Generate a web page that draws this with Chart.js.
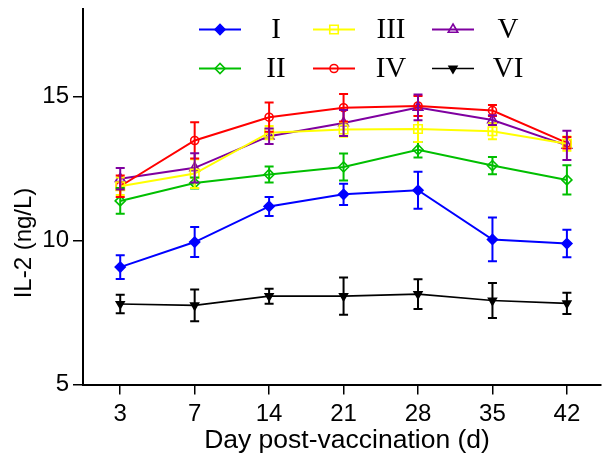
<!DOCTYPE html>
<html><head><meta charset="utf-8">
<script src="https://cdn.jsdelivr.net/npm/chart.js@4/dist/chart.umd.min.js"></script>
<style>html,body{margin:0;padding:0;background:#fff}#wrap{width:608px;height:466px}</style>
</head><body><div id="wrap"><canvas id="c" width="608" height="466"></canvas></div>
<script>
const days = ['3','7','14','21','28','35','42'];
const groupNames = ['I','II','III','IV','V','VI'];
const g1 = [9.08, 9.95, 11.19, 11.61, 11.75, 10.04, 9.90];
const g1Err = [0.41, 0.52, 0.33, 0.37, 0.64, 0.76, 0.48];
const g2 = [11.38, 12.00, 12.30, 12.56, 13.16, 12.61, 12.11];
const g2Err = [0.45, 0.19, 0.28, 0.47, 0.27, 0.30, 0.51];
const g3 = [11.89, 12.33, 13.75, 13.86, 13.88, 13.80, 13.37];
const g3Err = [0.30, 0.50, 0.23, 0.25, 0.45, 0.28, 0.25];
const g4 = [11.89, 13.48, 14.29, 14.62, 14.68, 14.52, 13.40];
const g4Err = [0.37, 0.63, 0.51, 0.48, 0.35, 0.19, 0.20];
const g5 = [12.15, 12.53, 13.63, 14.09, 14.63, 14.19, 13.31];
const g5Err = [0.37, 0.51, 0.27, 0.45, 0.45, 0.17, 0.51];
const g6 = [7.80, 7.75, 8.07, 8.07, 8.14, 7.92, 7.82];
const g6Err = [0.32, 0.55, 0.26, 0.65, 0.52, 0.61, 0.37];
const yTicks = [5, 10, 15];

const series = [g1, g2, g3, g4, g5, g6];
const errs = [g1Err, g2Err, g3Err, g4Err, g5Err, g6Err];
const colors = ['#0000ff', '#00bf00', '#ffff00', '#ff0000', '#7f00a0', '#000000'];
const shapes = ['rectRot', 'rectRot', 'rect', 'circle', 'triangle', 'triangle'];
const fills = [true, false, false, false, false, true];
const radii = [5, 5, 6, 4, 5.5, 4.5];
const rots = [0, 0, 0, 0, 0, 180];

const datasets = series.map((s, i) => ({
  label: groupNames[i],
  data: s.map((v, j) => ({x: j, y: v})),
  errors: errs[i],
  borderColor: colors[i],
  backgroundColor: fills[i] ? colors[i] : '#ffffff',
  pointBackgroundColor: fills[i] ? colors[i] : 'rgba(0,0,0,0)',
  pointBorderColor: colors[i],
  pointStyle: shapes[i],
  pointRadius: radii[i],
  pointRotation: rots[i],
  pointBorderWidth: 1.6,
  borderWidth: i === 5 ? 1.6 : 2,
  tension: 0,
  clip: false
}));

const errorBars = {
  id: 'errorBars',
  afterDatasetsDraw(chart) {
    const ctx = chart.ctx, xs = chart.scales.x, ys = chart.scales.y;
    ctx.save();
    chart.data.datasets.forEach((ds) => {
      ctx.strokeStyle = ds.borderColor;
      ctx.lineWidth = 2;
      ds.data.forEach((p, j) => {
        const e = ds.errors[j];
        const x = xs.getPixelForValue(p.x);
        const yt = ys.getPixelForValue(p.y + e), yb = ys.getPixelForValue(p.y - e);
        ctx.beginPath();
        ctx.moveTo(x, yt); ctx.lineTo(x, yb);
        ctx.moveTo(x - 4.5, yt); ctx.lineTo(x + 4.5, yt);
        ctx.moveTo(x - 4.5, yb); ctx.lineTo(x + 4.5, yb);
        ctx.stroke();
      });
    });
    ctx.restore();
  }
};

const legendAndTitles = {
  id: 'legendAndTitles',
  afterDraw(chart) {
    const ctx = chart.ctx;
    ctx.save();
    const colLine = [199, 313, 432];
    const colText = [276, 391, 508];
    const rowY = [29.5, 68.5];
    chart.data.datasets.forEach((ds, i) => {
      const col = Math.floor(i / 2), row = i % 2;
      const y = rowY[row], x0 = colLine[col];
      ctx.strokeStyle = ds.borderColor;
      ctx.lineWidth = ds.borderWidth;
      ctx.beginPath(); ctx.moveTo(x0, y); ctx.lineTo(x0 + 42, y); ctx.stroke();
      ctx.fillStyle = ds.pointBackgroundColor;
      ctx.lineWidth = ds.pointBorderWidth;
      Chart.helpers.drawPoint(ctx, {pointStyle: ds.pointStyle, radius: ds.pointRadius, rotation: ds.pointRotation, borderWidth: ds.pointBorderWidth}, x0 + 21, y);
      ctx.fillStyle = '#000';
      ctx.font = '29px "Liberation Serif", "Times New Roman", serif';
      ctx.textAlign = 'center'; ctx.textBaseline = 'middle';
      ctx.fillText(ds.label, colText[col], y + 1);
    });
    ctx.fillStyle = '#000';
    ctx.font = '26.5px "Liberation Sans", Arial, sans-serif';
    ctx.textAlign = 'center'; ctx.textBaseline = 'middle';
    ctx.fillText('Day post-vaccination (d)', 347, 441);
    ctx.font = '24px "Liberation Sans", Arial, sans-serif';
    ctx.translate(24, 243);
    ctx.rotate(-Math.PI / 2);
    ctx.fillText('IL-2 (ng/L)', 0, 0);
    ctx.restore();
  }
};

new Chart(document.getElementById('c'), {
  type: 'line',
  data: { datasets },
  plugins: [errorBars, legendAndTitles],
  options: {
    responsive: false,
    animation: false,
    devicePixelRatio: 1,
    layout: { padding: { top: 9, right: 0, left: 0, bottom: 0 } },
    plugins: { legend: { display: false }, tooltip: { enabled: false } },
    scales: {
      x: {
        type: 'linear',
        min: -0.5, max: 6.45,
        afterBuildTicks: s => { s.ticks = days.map((d, i) => ({value: i})); },
        afterFit: s => { s.height = 81.5; s.paddingLeft = 0; s.paddingRight = 0; },
        ticks: { callback: (v) => days[v], color: '#000', padding: 5, maxRotation: 0, autoSkip: false,
                 font: { family: '"Liberation Sans", Arial, sans-serif', size: 24 } },
        grid: { drawOnChartArea: false, drawTicks: true, tickLength: 10, color: '#000', lineWidth: 1.5 },
        border: { display: true, color: '#000', width: 2 }
      },
      y: {
        min: 5, max: 18.05,
        afterBuildTicks: s => { s.ticks = yTicks.map(v => ({value: v})); },
        afterFit: s => { s.width = 83; s.paddingTop = 0; s.paddingBottom = 0; },
        ticks: { color: '#000', padding: 4,
                 font: { family: '"Liberation Sans", Arial, sans-serif', size: 24 } },
        grid: { drawOnChartArea: false, drawTicks: true, tickLength: 10, color: '#000', lineWidth: 1.5 },
        border: { display: true, color: '#000', width: 2 }
      }
    }
  }
});
</script></body></html>
